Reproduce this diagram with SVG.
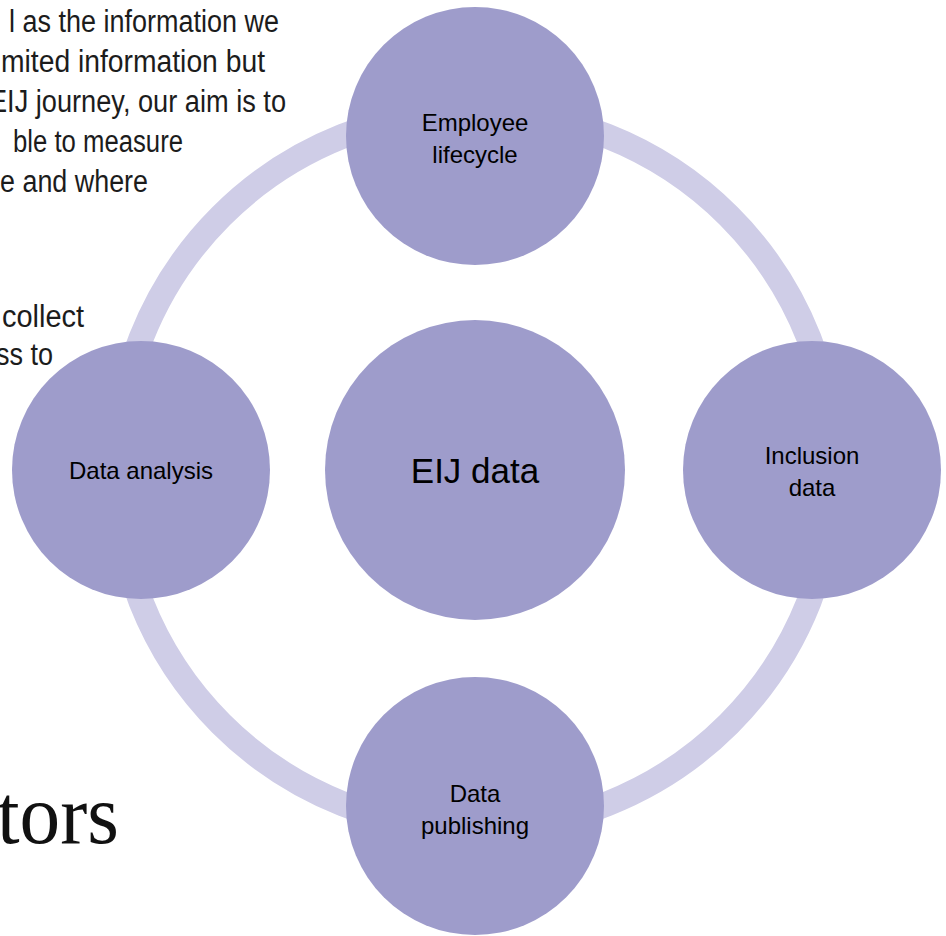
<svg xmlns="http://www.w3.org/2000/svg" width="946" height="936" viewBox="0 0 946 936">
  <style>
    .bg { font-family: "Liberation Sans", Arial, sans-serif; font-size: 31px; fill: #1c1c1c; }
    .title { font-family: "Liberation Serif", "Times New Roman", serif; font-size: 84px; fill: #111; }
    .node { fill: #9e9ccb; }
    .lbl { font-family: "Liberation Sans", Arial, sans-serif; font-size: 24px; fill: #000; text-anchor: middle; }
    .big { font-size: 35px; }
    .ring { fill: none; stroke: #cfcde7; stroke-width: 25; }
  </style>
  <rect width="946" height="936" fill="#ffffff"/>
  <g id="background-text">
    <text class="bg" x="9" y="32" textLength="270" lengthAdjust="spacingAndGlyphs">l as the information we</text>
    <text class="bg" x="1" y="72" textLength="264" lengthAdjust="spacingAndGlyphs">mited information but</text>
    <text class="bg" x="-11" y="112" textLength="297" lengthAdjust="spacingAndGlyphs">EIJ journey, our aim is to</text>
    <text class="bg" x="13" y="152" textLength="170" lengthAdjust="spacingAndGlyphs">ble to measure</text>
    <text class="bg" x="0" y="192" textLength="148" lengthAdjust="spacingAndGlyphs">e and where</text>
    <text class="bg" x="2" y="327" textLength="82" lengthAdjust="spacingAndGlyphs">collect</text>
    <text class="bg" x="-4" y="365" textLength="57" lengthAdjust="spacingAndGlyphs">ss to</text>
    <text class="title" x="-3" y="843" textLength="122" lengthAdjust="spacingAndGlyphs">tors</text>
  </g>
  <g id="connectors">
    <circle class="ring" cx="475" cy="470" r="359"/>
  </g>
  <g id="node-center">
    <circle class="node" cx="475" cy="470" r="150"/>
    <text class="lbl big" x="475" y="483">EIJ data</text>
  </g>
  <g id="node-employee-lifecycle">
    <circle class="node" cx="475" cy="136" r="129"/>
    <text class="lbl" x="475" y="131">Employee</text>
    <text class="lbl" x="475" y="163">lifecycle</text>
  </g>
  <g id="node-inclusion-data">
    <circle class="node" cx="812" cy="470" r="129"/>
    <text class="lbl" x="812" y="464">Inclusion</text>
    <text class="lbl" x="812" y="496">data</text>
  </g>
  <g id="node-data-publishing">
    <circle class="node" cx="475" cy="806" r="129"/>
    <text class="lbl" x="475" y="802">Data</text>
    <text class="lbl" x="475" y="834">publishing</text>
  </g>
  <g id="node-data-analysis">
    <circle class="node" cx="141" cy="470" r="129"/>
    <text class="lbl" x="141" y="479">Data analysis</text>
  </g>
</svg>
